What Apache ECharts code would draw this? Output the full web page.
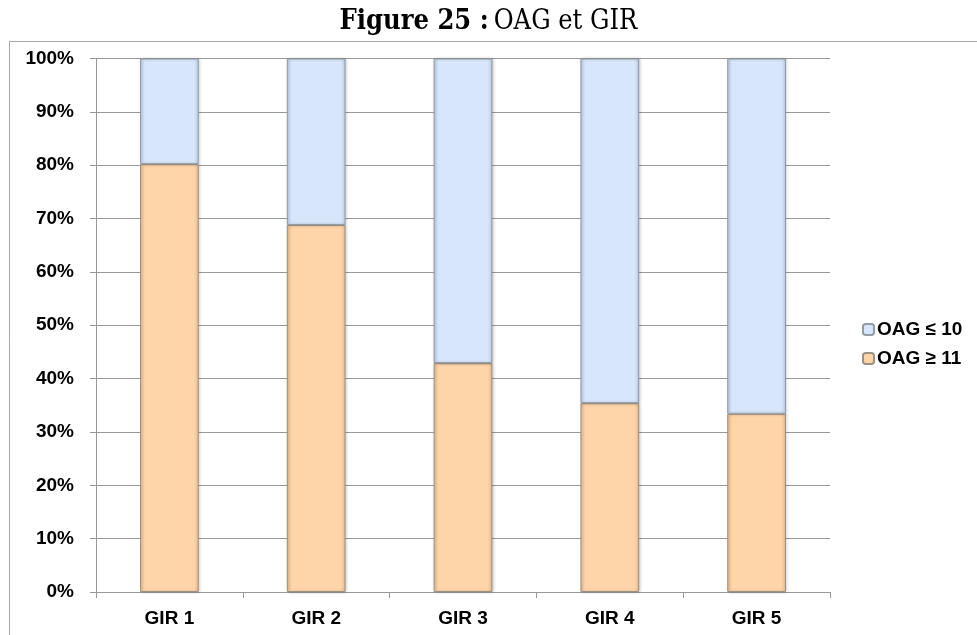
<!DOCTYPE html>
<html>
<head>
<meta charset="utf-8">
<style>
  html, body { margin: 0; padding: 0; background: #fff; }
  #chart { width: 977px; height: 635px; }
</style>
<script src="https://cdn.jsdelivr.net/npm/echarts@6/dist/echarts.min.js"></script>
</head>
<body>
<div id="chart"></div>
<script>
// GIR categories and share of each OAG group (%)
const categories = ['GIR 1', 'GIR 2', 'GIR 3', 'GIR 4', 'GIR 5']
const oagHigh = [80.2, 68.8, 42.9, 35.4, 33.4]   // OAG ≥ 11
const oagLow = [19.8, 31.2, 57.1, 64.6, 66.6]    // OAG ≤ 10
const yTicks = [0, 100, 10]

const chart = echarts.init(document.getElementById('chart'))

const labelFont = {
  fontFamily: 'Liberation Sans, Arial, sans-serif',
  fontWeight: 'bold',
  fontSize: 19,
  color: '#000'
}

function barColor(base, edge) {
  return {
    type: 'linear', x: 0, y: 0, x2: 1, y2: 0,
    colorStops: [
      { offset: 0, color: edge },
      { offset: 0.08, color: base },
      { offset: 0.92, color: base },
      { offset: 1, color: edge }
    ]
  }
}

const option = {
  backgroundColor: '#fff',
  animation: false,
  title: {
    text: '{b|Figure 25 :} {n|OAG et GIR}',
    left: 'center',
    top: 3,
    textStyle: {
      fontWeight: 'normal',
      rich: {
        b: { fontFamily: 'DejaVu Serif Condensed, DejaVu Serif, serif', fontWeight: 'bold', fontSize: 27, color: '#000' },
        n: { fontFamily: 'DejaVu Serif Condensed, DejaVu Serif, serif', fontWeight: 'normal', fontSize: 27, color: '#000' }
      }
    }
  },
  graphic: [{
    type: 'rect',
    shape: { x: 9.5, y: 41.5, width: 1000, height: 700 },
    style: { fill: 'none', stroke: '#a6a6a6', lineWidth: 1 },
    z: -1
  }],
  legend: {
    orient: 'vertical',
    left: 857,
    top: 315,
    itemWidth: 11,
    itemHeight: 11,
    itemGap: 10,
    textStyle: Object.assign({}, labelFont, { fontSize: 19, padding: [0, 0, 0, -2] }),
    data: ['OAG ≤ 10', 'OAG ≥ 11']
  },
  grid: { left: 96, right: 147, top: 58.5, bottom: 43, containLabel: false },
  xAxis: {
    type: 'category',
    data: categories,
    axisLine: { lineStyle: { color: '#999', width: 1 } },
    axisTick: { show: true, length: 6, lineStyle: { color: '#999' } },
    axisLabel: Object.assign({}, labelFont, { margin: 17 }),
    splitLine: { show: false }
  },
  yAxis: {
    type: 'value',
    min: yTicks[0],
    max: yTicks[1],
    interval: yTicks[2],
    axisLine: { show: true, lineStyle: { color: '#999', width: 1 } },
    axisTick: { show: true, length: 6, lineStyle: { color: '#999' } },
    axisLabel: Object.assign({}, labelFont, { margin: 22, formatter: '{value}%' }),
    splitLine: { lineStyle: { color: '#999', width: 1 } }
  },
  series: [
    {
      name: 'OAG ≥ 11',
      type: 'bar',
      stack: 'total',
      barWidth: '40%',
      data: oagHigh,
      itemStyle: {
        color: barColor('#fdd5a8', '#e8bb8c'),
        borderColor: '#9c9184',
        borderWidth: 1,
        shadowColor: 'rgba(0,0,0,0.2)',
        shadowBlur: 3,
        shadowOffsetX: 1
      }
    },
    {
      name: 'OAG ≤ 10',
      type: 'bar',
      stack: 'total',
      barWidth: '40%',
      data: oagLow,
      itemStyle: {
        color: barColor('#d7e6fa', '#b9cde6'),
        borderColor: '#939aa4',
        borderWidth: 1,
        shadowColor: 'rgba(0,0,0,0.2)',
        shadowBlur: 3,
        shadowOffsetX: 1
      }
    }
  ]
}

chart.setOption(option)
</script>
</body>
</html>
